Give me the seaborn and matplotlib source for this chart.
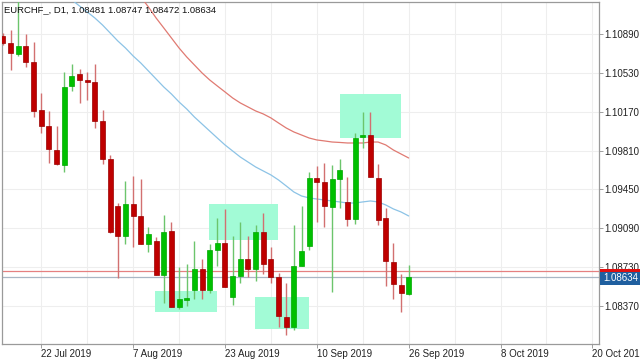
import numpy as np
import pandas as pd
import matplotlib
matplotlib.use("Agg")
import matplotlib.pyplot as plt
import seaborn as sns
from matplotlib.patches import Rectangle

title_text = "EURCHF_, D1, 1.08481 1.08747 1.08472 1.08634"

opens = [1.10871, 1.10807, 1.10705, 1.10779, 1.10631, 1.10186, 1.10038, 1.09815, 1.09676, 1.10408,
         1.10519, 1.10464, 1.10445, 1.10084, 1.09732, 1.09299, 1.09021, 1.09315, 1.09207, 1.08944,
         1.08975, 1.08660, 1.09062, 1.08364, 1.08430, 1.08518, 1.08716, 1.08518, 1.08889, 1.08951,
         1.08451, 1.08648, 1.08803, 1.08713, 1.09058, 1.08803, 1.08641, 1.08271, 1.08178, 1.08743,
         1.08929, 1.09559, 1.09522, 1.09290, 1.09544, 1.09331, 1.09179, 1.09939, 1.09951, 1.09559,
         1.09188, 1.08780, 1.08565, 1.08481]
highs = [1.10899, 1.10927, 1.11251, 1.10890, 1.10816, 1.10343, 1.10177, 1.10038, 1.10538, 1.10612,
         1.10566, 1.10538, 1.10612, 1.10186, 1.09769, 1.09324, 1.09528, 1.09574, 1.09547, 1.09105,
         1.09009, 1.09213, 1.09151, 1.08731, 1.08759, 1.08975, 1.08805, 1.08944, 1.09185, 1.09269,
         1.09019, 1.09151, 1.09019, 1.09120, 1.09229, 1.08919, 1.08673, 1.08580, 1.09120, 1.09299,
         1.09614, 1.09670, 1.09698, 1.09676, 1.09732, 1.09568, 1.09970, 1.10170, 1.10170, 1.09683,
         1.09281, 1.08957, 1.08664, 1.08747]
lows = [1.10788, 1.10556, 1.10686, 1.10584, 1.10121, 1.09973, 1.09695, 1.09680, 1.09611, 1.10362,
        1.10251, 1.10279, 1.10019, 1.09686, 1.09050, 1.08629, 1.08944, 1.08919, 1.08940, 1.08873,
        1.08655, 1.08401, 1.08360, 1.08339, 1.08370, 1.08438, 1.08438, 1.08490, 1.08741, 1.08545,
        1.08376, 1.08580, 1.08641, 1.08604, 1.08666, 1.08580, 1.08178, 1.08101, 1.08148, 1.08740,
        1.08889, 1.09151, 1.09099, 1.08503, 1.09275, 1.09111, 1.09130, 1.09831, 1.09565, 1.09118,
        1.08558, 1.08435, 1.08317, 1.08472]
closes = [1.10807, 1.10714, 1.10779, 1.10631, 1.10177, 1.10038, 1.09825, 1.09686, 1.10399, 1.10501,
          1.10464, 1.10445, 1.10084, 1.09732, 1.09056, 1.09021, 1.09315, 1.09204, 1.08942, 1.09037,
          1.08660, 1.09058, 1.08364, 1.08435, 1.08434, 1.08716, 1.08518, 1.08889, 1.08951, 1.08549,
          1.08648, 1.08803, 1.08713, 1.09058, 1.08759, 1.08641, 1.08280, 1.08178, 1.08741, 1.08880,
          1.09559, 1.09522, 1.09297, 1.09544, 1.09630, 1.09179, 1.09924, 1.09951, 1.09568, 1.09167,
          1.08787, 1.08571, 1.08488, 1.08634]

nan = np.nan
ma_blue = [nan] * 8 + [1.11261, 1.11205, 1.11149, 1.11094, 1.11038, 1.10973, 1.10899, 1.10825, 1.10760, 1.10686,
                       1.10621, 1.10547, 1.10473, 1.10399, 1.10334, 1.10260, 1.10195, 1.10121, 1.10056, 1.09991,
                       1.09926, 1.09862, 1.09806, 1.09750, 1.09704, 1.09658, 1.09621, 1.09584, 1.09537, 1.09482,
                       1.09426, 1.09389, 1.09371, 1.09361, 1.09352, 1.09343, 1.09334, 1.09324, 1.09324, 1.09334,
                       1.09343, 1.09334, 1.09306, 1.09269, 1.09241, 1.09204]
ma_red = [nan] * 18 + [1.11233, 1.11140, 1.11038, 1.10946, 1.10853, 1.10760, 1.10677, 1.10603, 1.10529, 1.10464,
                       1.10408, 1.10353, 1.10297, 1.10251, 1.10214, 1.10177, 1.10149, 1.10112, 1.10065, 1.10019,
                       1.09982, 1.09954, 1.09926, 1.09908, 1.09899, 1.09889, 1.09885, 1.09880, 1.09880, 1.09880,
                       1.09889, 1.09889, 1.09862, 1.09815, 1.09778, 1.09741]

x_tick_pos = [5, 17, 29, 41, 53, 65, 77]
x_tick_labels = ["22 Jul 2019", "7 Aug 2019", "23 Aug 2019", "10 Sep 2019",
                 "26 Sep 2019", "8 Oct 2019", "20 Oct 2019"]
y_ticks = [1.10890, 1.10530, 1.10170, 1.09810, 1.09450, 1.09090, 1.08730, 1.08370]

bid_price = 1.08634
ask_price = 1.08692

# zones: (x_start, x_end, price_low, price_high)
zone_x0 = [19.86, 26.95, 32.92, 43.96]
zone_x1 = [27.92, 35.96, 39.97, 51.99]
zone_lo = [1.08317, 1.08982, 1.08154, 1.09924]
zone_hi = [1.08512, 1.09312, 1.08456, 1.10331]

sns.set_theme(style="white")
plt.rcParams['font.family'] = ['Liberation Sans', 'DejaVu Sans']

W, H = 640, 360
fig = plt.figure(figsize=(6.4, 3.6), dpi=100)
ax = fig.add_axes([2 / W, 16 / H, 597 / W, 342 / H])
ax.set_facecolor("white")

n = len(opens)
df = pd.DataFrame({"idx": np.arange(n), "open": opens, "high": highs, "low": lows,
                   "close": closes, "ma_blue": ma_blue, "ma_red": ma_red})

# grid
for gx in range(5, 80, 6):
    ax.axvline(gx, color="#eeeeee", lw=0.8, zorder=0)
for gy in y_ticks:
    ax.axhline(gy, color="#eeeeee", lw=0.8, zorder=0)

# zones
for a, b, lo, hi in zip(zone_x0, zone_x1, zone_lo, zone_hi):
    ax.add_patch(Rectangle((a, lo), b - a, hi - lo, facecolor="#a2fbd6", edgecolor="none", zorder=1))

# horizontal price lines
ax.axhline(ask_price, color="#e58080", lw=0.9, zorder=2)
ax.axhline(bid_price, color="#a9b6c4", lw=0.9, zorder=2)

# moving averages
sns.lineplot(data=df, x="idx", y="ma_red", color="#e07a72", lw=0.9, ax=ax, zorder=3)
sns.lineplot(data=df, x="idx", y="ma_blue", color="#8cc3e6", lw=0.9, ax=ax, zorder=3)

# candles
up = df["close"] >= df["open"]
wick_col = np.where(up, "#6cc56c", "#d27070")
body_col = np.where(up, "#00c000", "#bf0000")
edge_col = np.where(up, "#00a800", "#9a0000")
ax.vlines(df["idx"], df["low"], df["high"], colors=wick_col, lw=1.0, zorder=4)
bottoms = np.minimum(df["open"], df["close"])
heights = np.maximum(np.abs(df["close"] - df["open"]), 0.00010)
ax.bar(df["idx"], heights, bottom=bottoms, width=0.65, color=body_col,
       edgecolor=edge_col, linewidth=0.5, zorder=5)

ax.set_xlim(-0.13, 77.86)
ax.set_ylim(1.08018, 1.11186)
ax.set_xlabel("")
ax.set_ylabel("")

ax.set_xticks(x_tick_pos)
ax.set_xticklabels(x_tick_labels, fontsize=7, color="#222222")
for lab in ax.get_xticklabels():
    lab.set_ha("left")
ax.yaxis.tick_right()
ax.set_yticks(y_ticks)
ax.set_yticklabels([f"{v:.5f}" for v in y_ticks], fontsize=7, color="#222222")
ax.tick_params(axis="x", length=3, width=0.6, color="#909090", pad=0.5, bottom=True)
ax.tick_params(axis="y", length=3, width=0.6, color="#909090", pad=1, right=True, left=False)

for s in ax.spines.values():
    s.set_color("#9a9a9a")
    s.set_linewidth(0.9)

# title
fig.text(4 / W, 1 - 10 / H, title_text, fontsize=6.8, color="#111111", ha="left", va="center")

# price labels on the right axis
fig.patches.append(Rectangle((600 / W, 1 - 285 / H), 40 / W, 16 / H, transform=fig.transFigure,
                             facecolor="#e01010", edgecolor="none", zorder=10))
fig.patches.append(Rectangle((600 / W, 1 - 285 / H), 40 / W, 13.5 / H, transform=fig.transFigure,
                             facecolor="#1f5f9f", edgecolor="none", zorder=11))
fig.text(603 / W, 1 - 278 / H, f"{bid_price:.5f}", fontsize=7, color="white",
         ha="left", va="center", zorder=12)

fig.savefig("out.png", dpi=100)
